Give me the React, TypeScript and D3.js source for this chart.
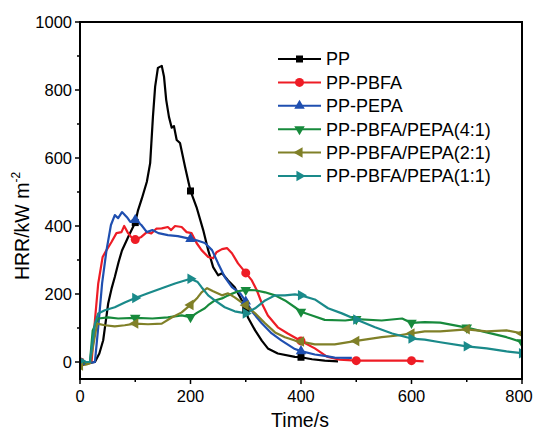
import * as d3 from 'd3'

const W = 534
const H = 432
const BOX = { left: 80, right: 522, top: 22, bottom: 379 }

const X_TICKS = [0, 200, 400, 600, 800]
const X_MINOR = [100, 300, 500, 700]
const Y_TICKS = [0, 200, 400, 600, 800, 1000]
const Y_MINOR = [100, 300, 500, 700, 900]

// time (s), HRR (kW/m2)
const PP = [[0,0],[10,0],[20,-2],[27,0],[35,25],[42,64],[51,172],[57,215],[63,250],[70,295],[76,328],[87,367],[96,397],[100,410],[105,446],[112,481],[121,530],[127,585],[132,721],[136,810],[141,865],[148,871],[152,840],[156,771],[161,721],[166,689],[170,694],[175,653],[181,644],[190,575],[200,503],[211,455],[223,388],[232,329],[241,279],[250,255],[257,261],[268,240],[280,220],[293,181],[300,155],[304,131],[317,93],[329,63],[340,40],[358,25],[389,15],[400,14],[420,8],[443,4],[467,2]]
const PBFA = [[0,0],[10,0],[18,-2],[21,2],[27,122],[33,231],[41,309],[48,329],[57,353],[66,379],[75,382],[80,400],[87,379],[94,365],[100,360],[111,368],[121,382],[129,378],[138,392],[148,393],[159,397],[165,388],[172,400],[184,397],[193,382],[202,379],[211,350],[220,329],[232,309],[241,305],[247,323],[257,332],[266,335],[275,320],[286,290],[300,262],[311,240],[320,211],[329,173],[340,137],[358,102],[376,84],[400,62],[425,40],[447,16],[470,7],[500,4],[550,4],[600,4],[622,2]]
const PEPA = [[0,0],[10,0],[20,-2],[27,0],[33,102],[40,231],[48,329],[56,403],[63,432],[69,423],[76,441],[85,426],[91,412],[100,418],[111,403],[121,382],[131,388],[142,379],[159,373],[177,370],[200,362],[211,358],[226,350],[239,329],[250,290],[262,250],[275,220],[290,202],[300,178],[314,143],[329,114],[347,84],[365,63],[389,38],[400,32],[425,22],[443,18],[461,13],[492,12]]
const MIX41 = [[0,-5],[10,-3],[18,0],[23,93],[33,128],[51,131],[69,128],[100,130],[131,128],[159,131],[184,137],[200,132],[213,146],[226,158],[232,167],[244,181],[257,187],[268,196],[286,208],[300,212],[317,211],[335,205],[353,196],[371,181],[389,161],[400,148],[420,137],[443,124],[480,122],[500,126],[546,122],[583,128],[600,115],[624,117],[652,116],[700,101],[736,87],[772,73],[800,58]]
const MIX21 = [[0,-10],[10,-8],[18,-4],[23,40],[31,113],[45,108],[63,105],[81,108],[100,113],[123,111],[148,113],[166,131],[184,146],[200,168],[213,190],[220,205],[230,217],[241,208],[257,196],[268,202],[280,190],[293,175],[300,167],[317,143],[335,114],[353,87],[371,73],[389,63],[400,60],[425,52],[447,52],[461,52],[500,62],[546,73],[575,78],[600,84],[624,90],[652,90],[700,96],[736,90],[772,93],[800,84]]
const MIX11 = [[0,4],[10,0],[18,0],[27,113],[33,143],[45,152],[63,161],[81,175],[100,188],[123,202],[148,217],[172,231],[200,245],[213,235],[220,220],[232,196],[244,181],[262,161],[280,149],[300,143],[317,158],[335,181],[353,196],[371,196],[389,199],[400,196],[425,184],[449,158],[474,143],[500,125],[534,102],[565,84],[600,69],[624,66],[652,58],[700,46],[736,40],[772,31],[800,26]]

const SERIES = [
  { name: 'PP', data: PP, color: '#000000', shape: 'square' },
  { name: 'PP-PBFA', data: PBFA, color: '#ee1c25', shape: 'circle' },
  { name: 'PP-PEPA', data: PEPA, color: '#1f4fb0', shape: 'up' },
  { name: 'PP-PBFA/PEPA(4:1)', data: MIX41, color: '#178a3c', shape: 'down' },
  { name: 'PP-PBFA/PEPA(2:1)', data: MIX21, color: '#808028', shape: 'left' },
  { name: 'PP-PBFA/PEPA(1:1)', data: MIX11, color: '#1a8a8a', shape: 'right' },
]

const FONT = 'Arial, "Liberation Sans", Helvetica, sans-serif'

const Marker = ({ x, y, shape, color }) => {
  if (shape === 'square') {
    return <rect x={x - 3.5} y={y - 3.5} width={7} height={7} fill={color} />
  }
  if (shape === 'circle') {
    return <circle cx={x} cy={y} r={4.5} fill={color} />
  }
  const rot = { up: 0, right: 90, down: 180, left: 270 }[shape]
  const path = d3.symbol().type(d3.symbolTriangle).size(48)()
  return <path d={path} fill={color} transform={`translate(${x},${y}) rotate(${rot})`} />
}

export default function App() {
  const x = d3.scaleLinear().domain([0, 800]).range([BOX.left, BOX.right])
  const y = d3.scaleLinear().domain([-50, 1000]).range([BOX.bottom, BOX.top])

  const line = d3
    .line()
    .x((d) => x(d[0]))
    .y((d) => y(d[1]))

  return (
    <div style={{ position: 'absolute', left: 0, top: 0 }}>
      <svg width={W} height={H} style={{ display: 'block', background: '#fff' }} fontFamily={FONT}>
        <defs>
          <clipPath id="plot">
            <rect x={BOX.left} y={BOX.top} width={BOX.right - BOX.left} height={BOX.bottom - BOX.top} />
          </clipPath>
        </defs>

        <g clipPath="url(#plot)">
          {SERIES.map((s) => (
            <path key={s.name} d={line(s.data)} fill="none" stroke={s.color} strokeWidth={2.2} strokeLinejoin="round" />
          ))}
          {SERIES.map((s) =>
            s.data
              .filter((d) => d[0] % 100 === 0)
              .map((d) => (
                <Marker key={s.name + d[0]} x={x(d[0])} y={y(d[1])} shape={s.shape} color={s.color} />
              ))
          )}
        </g>

        {/* frame */}
        <rect
          x={BOX.left}
          y={BOX.top}
          width={BOX.right - BOX.left}
          height={BOX.bottom - BOX.top}
          fill="none"
          stroke="#000"
          strokeWidth={2}
        />

        {/* x axis */}
        {X_TICKS.map((t) => (
          <g key={'x' + t}>
            <line x1={x(t)} x2={x(t)} y1={BOX.bottom} y2={BOX.bottom + 5} stroke="#000" strokeWidth={1.5} />
            <text x={Math.min(x(t), W - 15)} y={BOX.bottom + 23} textAnchor="middle" fontSize={16.5}>
              {t}
            </text>
          </g>
        ))}
        {X_MINOR.map((t) => (
          <line key={'xm' + t} x1={x(t)} x2={x(t)} y1={BOX.bottom} y2={BOX.bottom + 3} stroke="#000" strokeWidth={1.5} />
        ))}

        {/* y axis */}
        {Y_TICKS.map((t) => (
          <g key={'y' + t}>
            <line x1={BOX.left - 5} x2={BOX.left} y1={y(t)} y2={y(t)} stroke="#000" strokeWidth={1.5} />
            <text x={BOX.left - 8} y={y(t)} dy="0.36em" textAnchor="end" fontSize={16.5}>
              {t}
            </text>
          </g>
        ))}
        {Y_MINOR.map((t) => (
          <line key={'ym' + t} x1={BOX.left - 3} x2={BOX.left} y1={y(t)} y2={y(t)} stroke="#000" strokeWidth={1.5} />
        ))}

        <text x={300} y={427} textAnchor="middle" fontSize={19.5}>
          Time/s
        </text>
        <text transform="translate(29,226) rotate(-90)" textAnchor="middle" fontSize={19.5}>
          HRR/kW m
          <tspan fontSize={12} dy={-9}>-2</tspan>
        </text>

        {/* legend */}
        {SERIES.map((s, i) => {
          const ly = 59 + i * 23.4
          return (
            <g key={'lg' + s.name}>
              <line x1={278} x2={321} y1={ly} y2={ly} stroke={s.color} strokeWidth={2} />
              <Marker x={299.5} y={ly} shape={s.shape} color={s.color} />
              <text x={326} y={ly} dy="0.36em" fontSize={18}>
                {s.name}
              </text>
            </g>
          )
        })}
      </svg>
    </div>
  )
}
